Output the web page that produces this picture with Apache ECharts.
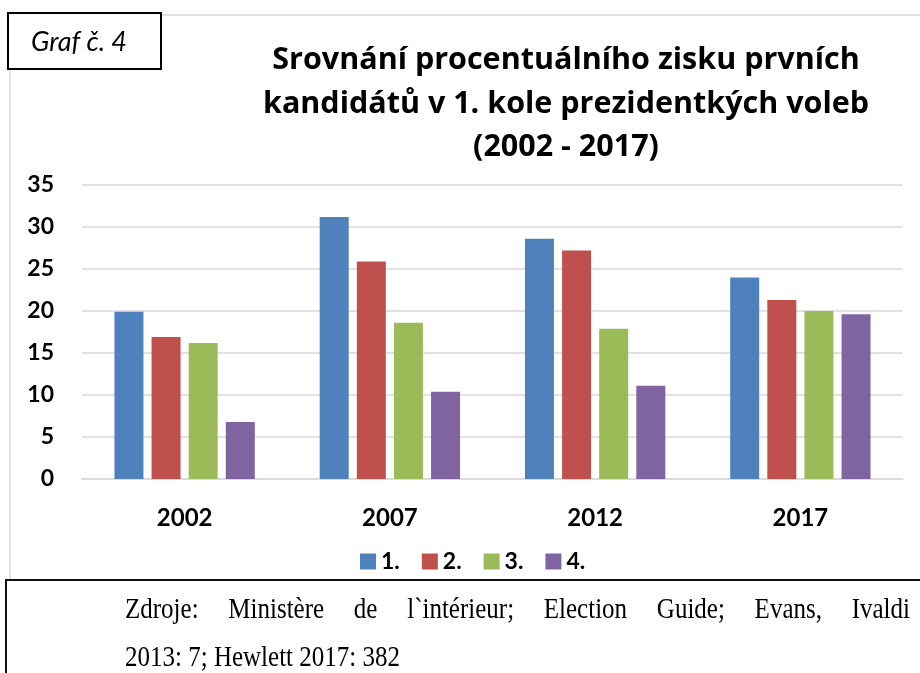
<!DOCTYPE html>
<html>
<head>
<meta charset="utf-8">
<script src="https://cdn.jsdelivr.net/npm/echarts@6/dist/echarts.min.js"></script>
<style>html,body{margin:0;padding:0;background:#fff;}#chart{width:920px;height:673px;}</style>
</head>
<body>
<div id="chart"></div>
<script>
const categories = ['2002', '2007', '2012', '2017'];
const seriesNames = ['1.', '2.', '3.', '4.'];
const first  = [19.9, 31.2, 28.6, 24.0];
const second = [16.9, 25.9, 27.2, 21.3];
const third  = [16.2, 18.6, 17.9, 20.0];
const fourth = [6.8, 10.4, 11.1, 19.6];
const yTicks = [0, 5, 10, 15, 20, 25, 30, 35];
const colors = ['#4F81BD', '#C0504D', '#9BBB59', '#8064A2'];
const titleText = 'Srovnání procentuálního zisku prvních\nkandidátů v 1. kole prezidentkých voleb\n(2002 - 2017)';
const badgeText = 'Graf č. 4';
const sourceLine1 = ['Zdroje:', 'Ministère', 'de', 'l`intérieur;', 'Election', 'Guide;', 'Evans,', 'Ivaldi'];
const sourceLine2 = '2013: 7; Hewlett 2017: 382';

const chart = echarts.init(document.getElementById('chart'));

// justify footer first line
const srcFont = '25px "Liberation Serif"';
const cv = document.createElement('canvas').getContext('2d');
cv.font = srcFont;
const widths = sourceLine1.map(w => cv.measureText(w).width);
const totalW = widths.reduce((a, b) => a + b, 0);
const x0 = 125, x1 = 910;
const gap = (x1 - x0 - totalW) / (sourceLine1.length - 1);
let cx = x0;
const wordEls = sourceLine1.map((w, i) => {
  const el = { type: 'text', x: cx, y: 0, style: { text: w, font: srcFont, fill: '#000', textVerticalAlign: 'middle' } };
  cx += widths[i] + gap;
  return el;
});

const data = [first, second, third, fourth];
const series = data.map((d, i) => ({
  name: seriesNames[i],
  type: 'bar',
  data: d,
  barWidth: 29,
  barGap: '28%',
  itemStyle: { color: colors[i] },
  emphasis: { disabled: true }
}));

chart.setOption({
  animation: false,
  color: colors,
  title: {
    text: titleText,
    left: 561,
    top: 34,
    textAlign: 'center',
    textStyle: { fontFamily: 'Open Sans', fontWeight: 'bold', fontSize: 30.5, lineHeight: 43.5, color: '#000' }
  },
  legend: {
    data: seriesNames,
    left: 360,
    top: 550,
    padding: 0,
    itemWidth: 16,
    itemHeight: 16,
    itemGap: 22,
    icon: 'rect',
    textStyle: { fontFamily: 'Lato', fontWeight: 'bold', fontSize: 23, color: '#000' }
  },
  grid: { left: 82, right: 17, top: 185, bottom: 194 },
  xAxis: {
    type: 'category',
    data: categories,
    axisLine: { show: true, lineStyle: { color: '#d9d9d9', width: 1.5 } },
    axisTick: { show: false },
    axisLabel: { margin: 27, fontFamily: 'Lato', fontWeight: 'bold', fontSize: 24, color: '#000' }
  },
  yAxis: {
    type: 'value',
    min: yTicks[0],
    max: yTicks[yTicks.length - 1],
    interval: 5,
    axisLine: { show: false },
    axisTick: { show: false },
    splitLine: { lineStyle: { color: '#d9d9d9', width: 1.5 } },
    axisLabel: { margin: 28, fontFamily: 'Lato', fontWeight: 'bold', fontSize: 23, color: '#000' }
  },
  series: series,
  graphic: [
    { type: 'line', shape: { x1: 161, y1: 15, x2: 920, y2: 15 }, style: { stroke: '#d9d9d9', lineWidth: 1.5 } },
    { type: 'line', shape: { x1: 10, y1: 69, x2: 10, y2: 580 }, style: { stroke: '#d9d9d9', lineWidth: 1.5 } },
    { type: 'rect', shape: { x: 8, y: 13, width: 153, height: 56 }, style: { fill: '#fff', stroke: '#000', lineWidth: 2 } },
    { type: 'text', x: 79, y: 42, style: { text: badgeText, font: 'italic 27px Lato', fill: '#000', textAlign: 'center', textVerticalAlign: 'middle' } },
    { type: 'line', shape: { x1: 5, y1: 580, x2: 920, y2: 580 }, style: { stroke: '#111', lineWidth: 2 } },
    { type: 'line', shape: { x1: 6, y1: 580, x2: 6, y2: 673 }, style: { stroke: '#111', lineWidth: 2 } },
    { type: 'group', x: 0, y: 610, scaleY: 1.15, children: wordEls },
    { type: 'group', x: 0, y: 658, scaleY: 1.15, children: [
      { type: 'text', x: 125, y: 0, style: { text: sourceLine2, font: srcFont, fill: '#000', textVerticalAlign: 'middle' } }
    ] }
  ]
});
</script>
</body>
</html>
